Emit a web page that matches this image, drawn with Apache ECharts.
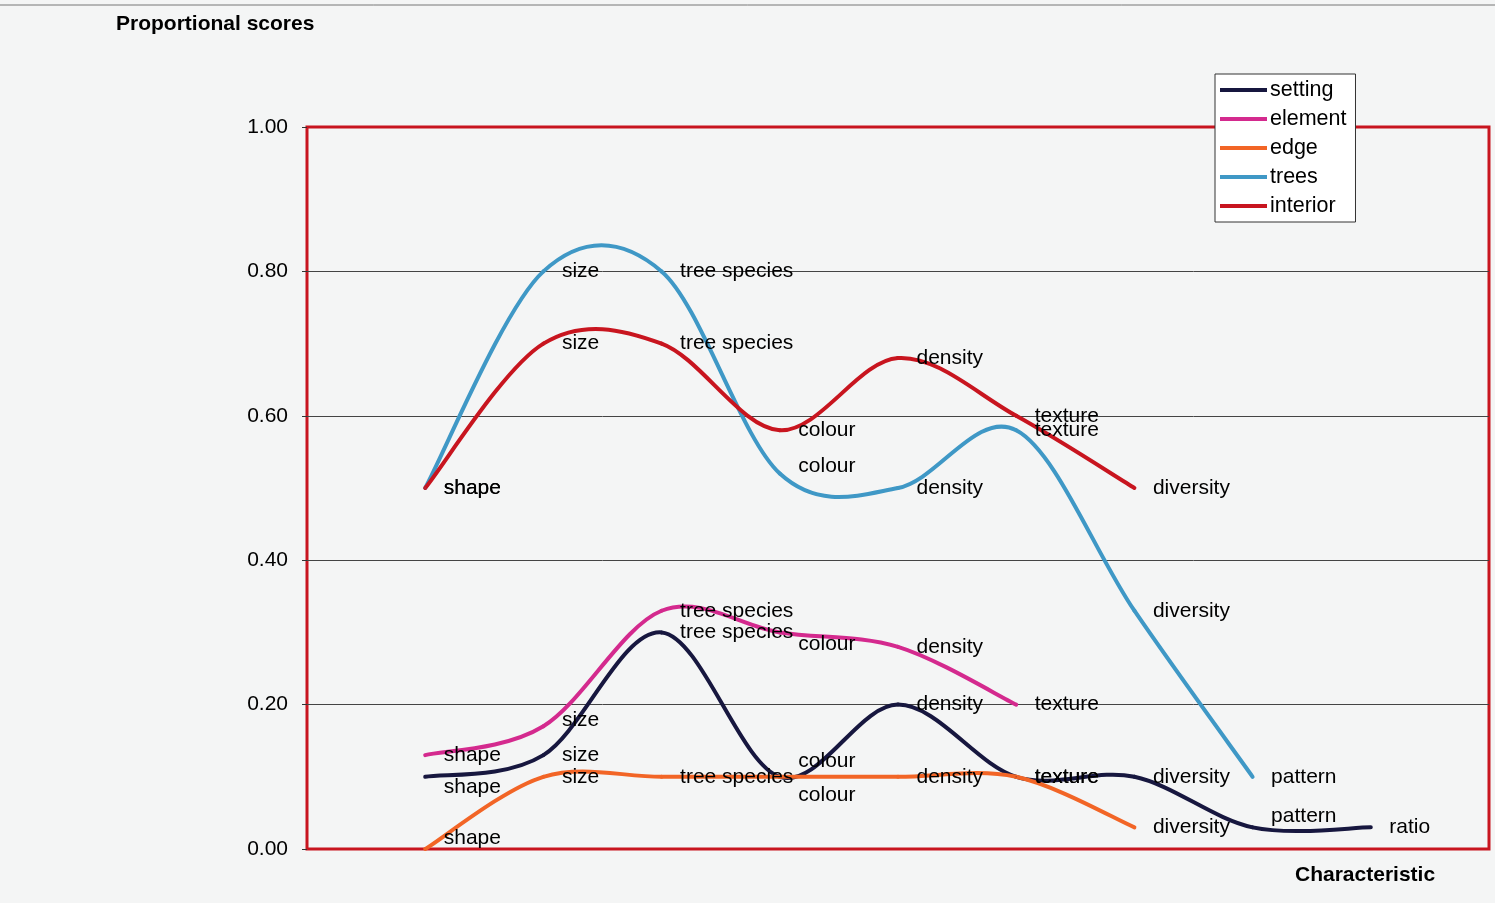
<!DOCTYPE html>
<html>
<head>
<meta charset="utf-8">
<script src="https://cdn.jsdelivr.net/npm/echarts@6/dist/echarts.min.js"></script>
<style>
  html, body { margin: 0; padding: 0; background: #f4f5f5; }
  #chart { width: 1495px; height: 903px; }
</style>
</head>
<body>
<div id="chart"></div>
<script>
// ---- data ----
const categories = ['shape', 'size', 'tree species', 'colour', 'density', 'texture', 'diversity', 'pattern', 'ratio'];
const seriesNames = ['setting', 'element', 'edge', 'trees', 'interior'];
const setting  = [0.10, 0.13, 0.30, 0.10, 0.20, 0.10, 0.10, 0.03, 0.03];
const element  = [0.13, 0.17, 0.33, 0.30, 0.28, 0.20];
const edge     = [0.00, 0.10, 0.10, 0.10, 0.10, 0.10, 0.03];
const trees    = [0.50, 0.80, 0.80, 0.52, 0.50, 0.58, 0.33, 0.10];
const interior = [0.50, 0.70, 0.70, 0.58, 0.68, 0.60, 0.50];
const yTickLabels = ['0.00', '0.20', '0.40', '0.60', '0.80', '1.00'];

// ---- styling ----
const colors = {
  setting: '#17173f',
  element: '#d42a8e',
  edge: '#f26526',
  trees: '#3f98c6',
  interior: '#c8151f'
};
// vertical label nudges (px) per series / category index
const labelNudge = {
  setting: { 0: 10, 3: -16, 7: -11 },
  element: { 1: -6, 3: 12 },
  edge: { 0: -11, 3: 18 },
  trees: { 3: -7 },
  interior: {}
};
const FONT = '"Liberation Sans", Arial, sans-serif';
const valuesByName = { setting, element, edge, trees, interior };

const axisCats = [''].concat(categories).concat(['']);

// Smooth curve (Catmull-Rom as cubic Bezier, like spreadsheet smoothing),
// drawn segment by segment from the data through the axis scales.
function curveSeries(name) {
  const vals = valuesByName[name];
  return {
    name: name,
    type: 'custom',
    data: vals.map((v, j) => [j + 1, v]),
    encode: { x: 0, y: 1 },
    itemStyle: { color: colors[name] },
    z: 2,
    silent: true,
    renderItem: function (params, api) {
      const i = params.dataIndex;
      if (i >= vals.length - 1) return null;
      const pts = vals.map((v, j) => api.coord([j + 1, v]));
      const p0 = pts[i - 1] || pts[i];
      const p1 = pts[i];
      const p2 = pts[i + 1];
      const p3 = pts[i + 2] || pts[i + 1];
      return {
        type: 'bezierCurve',
        shape: {
          x1: p1[0], y1: p1[1],
          cpx1: p1[0] + (p2[0] - p0[0]) / 6, cpy1: p1[1] + (p2[1] - p0[1]) / 6,
          cpx2: p2[0] - (p3[0] - p1[0]) / 6, cpy2: p2[1] - (p3[1] - p1[1]) / 6,
          x2: p2[0], y2: p2[1]
        },
        style: { stroke: colors[name], lineWidth: 4, fill: null, lineCap: 'round' }
      };
    }
  };
}

// Point labels (category names) placed on the data points.
function labelSeries(name) {
  const vals = valuesByName[name];
  const data = [null];
  vals.forEach((v, i) => {
    const dy = labelNudge[name][i] || 0;
    data.push({ value: v, label: { offset: [0, dy] } });
  });
  return {
    name: name,
    type: 'line',
    data: data,
    symbol: 'circle',
    symbolSize: 1,
    showSymbol: true,
    itemStyle: { color: colors[name] },
    lineStyle: { color: colors[name], width: 0, opacity: 0 },
    label: {
      show: true,
      position: 'right',
      distance: 18,
      formatter: '{b}',
      color: '#000',
      fontFamily: FONT,
      fontSize: 21
    },
    emphasis: { disabled: true },
    silent: true,
    z: 3
  };
}

const chart = echarts.init(document.getElementById('chart'), null, { renderer: 'canvas' });
chart.setOption({
  animation: false,
  backgroundColor: '#f4f5f5',
  title: [
    {
      text: 'Proportional scores', left: 116, top: 14, padding: 0,
      textStyle: { fontFamily: FONT, fontSize: 21, fontWeight: 'bold', color: '#000' }
    },
    {
      text: 'Characteristic', left: 1295, top: 865, padding: 0,
      textStyle: { fontFamily: FONT, fontSize: 21, fontWeight: 'bold', color: '#000' }
    }
  ],
  graphic: [
    { type: 'line', shape: { x1: 0, y1: 5, x2: 1495, y2: 5 }, style: { stroke: '#777', lineWidth: 1 }, silent: true }
  ],
  legend: {
    orient: 'vertical',
    left: 1215, top: 74,
    padding: [5, 9, 5, 5],
    icon: 'rect',
    itemWidth: 47, itemHeight: 4,
    itemGap: 7,
    backgroundColor: '#ffffff',
    borderColor: '#333',
    borderWidth: 1,
    borderRadius: 0,
    selectedMode: false,
    data: seriesNames,
    textStyle: { fontFamily: FONT, fontSize: 21.5, color: '#000', lineHeight: 22, padding: [0, 0, 0, -2] }
  },
  grid: {
    left: 307, right: 6, top: 127, bottom: 54,
    show: true,
    borderColor: '#c8151f',
    borderWidth: 3,
    backgroundColor: 'transparent'
  },
  xAxis: {
    type: 'category',
    data: axisCats,
    boundaryGap: false,
    axisLine: { show: false },
    axisTick: { show: false },
    axisLabel: { show: false },
    splitLine: { show: false }
  },
  yAxis: {
    type: 'value',
    min: 0, max: 1, interval: 0.2,
    axisLine: { show: false },
    axisTick: { show: true, length: 5, lineStyle: { color: '#333', width: 1 } },
    axisLabel: {
      margin: 19,
      fontFamily: FONT, fontSize: 21, color: '#000',
      formatter: v => yTickLabels[Math.round(v / 0.2)]
    },
    splitLine: { show: true, showMinLine: false, showMaxLine: false, lineStyle: { color: '#444', width: 1 } }
  },
  series: seriesNames.map(labelSeries).concat(seriesNames.map(curveSeries))
});
</script>
</body>
</html>
